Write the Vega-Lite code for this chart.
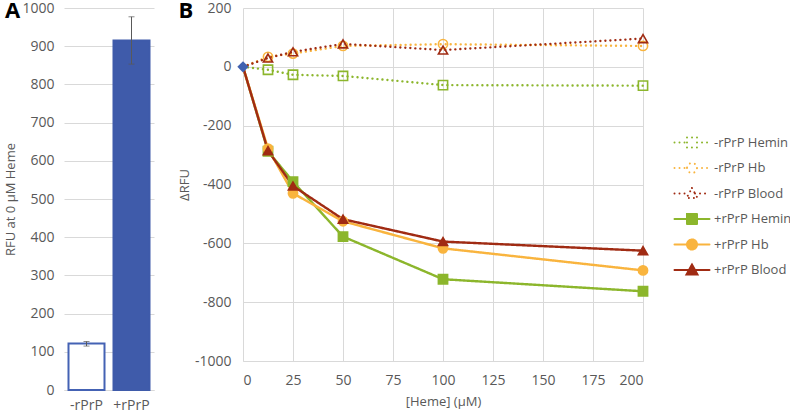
{
  "$schema": "https://vega.github.io/schema/vega-lite/v6.json",
  "padding": {"left": 4, "top": 0, "right": 0, "bottom": 0},
  "background": "white",
  "spacing": 24,
  "resolve": {"scale": {"x": "independent", "y": "independent", "fill": "independent", "stroke": "independent", "shape": "independent", "strokeDash": "independent"}, "legend": {"fill": "independent", "stroke": "independent", "shape": "independent", "strokeDash": "independent"}},
  "config": {
    "font": "Open Sans",
    "view": {"stroke": null},
    "axis": {"labelColor": "#595959", "titleColor": "#595959", "labelFontSize": 14, "titleFontSize": 13, "titleFontWeight": "normal", "gridColor": "#d9d9d9", "domainColor": "#d9d9d9", "ticks": false},
    "legend": {"title": null, "orient": "none", "legendX": 430, "legendY": 127, "padding": 0, "symbolSize": 100, "symbolStrokeWidth": 2, "labelOffset": 28, "labelFontSize": 13, "labelColor": "#595959", "rowPadding": 10.5, "clipHeight": 15, "labelLimit": 200},
    "title": {"fontSize": 22, "fontWeight": "bold", "color": "#000000", "anchor": "start", "frame": "bounds", "dy": 26}
  },
  "hconcat": [
    {
      "title": "A",
      "width": 90,
      "height": 382,
      "data": {"values": [
        {"g": "-rPrP", "v": 122, "lo": 115, "hi": 127},
        {"g": "+rPrP", "v": 915, "lo": 853, "hi": 977}
      ]},
      "layer": [
        {
          "mark": {"type": "bar", "strokeWidth": 2},
          "encoding": {
            "x": {"field": "g", "type": "nominal", "sort": ["-rPrP", "+rPrP"], "scale": {"paddingInner": 0.2, "paddingOuter": 0.1}, "axis": {"title": null, "labelAngle": 0, "labelPadding": 8, "domain": true, "grid": false}},
            "y": {"field": "v", "type": "quantitative", "scale": {"domain": [0, 1000], "nice": false}, "axis": {"title": "RFU at 0 μM Heme", "values": [0, 100, 200, 300, 400, 500, 600, 700, 800, 900, 1000], "labelExpr": "'' + datum.value", "domain": false, "labelPadding": 10, "titlePadding": 4}},
            "fill": {"field": "g", "type": "nominal", "scale": {"domain": ["-rPrP", "+rPrP"], "range": ["#ffffff", "#3F5BAA"]}, "legend": null},
            "stroke": {"field": "g", "type": "nominal", "scale": {"domain": ["-rPrP", "+rPrP"], "range": ["#4462B4", "#3F5BAA"]}, "legend": null}
          }
        },
        {
          "mark": {"type": "rule", "color": "#595959", "strokeWidth": 1},
          "encoding": {
            "x": {"field": "g", "type": "nominal", "sort": ["-rPrP", "+rPrP"]},
            "y": {"field": "lo", "type": "quantitative", "axis": {"title": "RFU at 0 μM Heme", "values": [0, 100, 200, 300, 400, 500, 600, 700, 800, 900, 1000], "labelExpr": "'' + datum.value", "domain": false, "labelPadding": 10, "titlePadding": 4}},
            "y2": {"field": "hi"}
          }
        },
        {
          "mark": {"type": "tick", "color": "#595959", "size": 6, "thickness": 1},
          "encoding": {
            "x": {"field": "g", "type": "nominal", "sort": ["-rPrP", "+rPrP"]},
            "y": {"field": "lo", "type": "quantitative", "axis": {"title": "RFU at 0 μM Heme", "values": [0, 100, 200, 300, 400, 500, 600, 700, 800, 900, 1000], "labelExpr": "'' + datum.value", "domain": false, "labelPadding": 10, "titlePadding": 4}}
          }
        },
        {
          "mark": {"type": "tick", "color": "#595959", "size": 6, "thickness": 1},
          "encoding": {
            "x": {"field": "g", "type": "nominal", "sort": ["-rPrP", "+rPrP"]},
            "y": {"field": "hi", "type": "quantitative", "axis": {"title": "RFU at 0 μM Heme", "values": [0, 100, 200, 300, 400, 500, 600, 700, 800, 900, 1000], "labelExpr": "'' + datum.value", "domain": false, "labelPadding": 10, "titlePadding": 4}}
          }
        }
      ]
    },
    {
      "title": "B",
      "width": 400,
      "height": 353,
      "data": {"values": [
        {"series": "-rPrP Hemin", "heme": "Hemin", "x": 0, "y": 0},
        {"series": "-rPrP Hemin", "heme": "Hemin", "x": 12.5, "y": -10},
        {"series": "-rPrP Hemin", "heme": "Hemin", "x": 25, "y": -27},
        {"series": "-rPrP Hemin", "heme": "Hemin", "x": 50, "y": -31},
        {"series": "-rPrP Hemin", "heme": "Hemin", "x": 100, "y": -62},
        {"series": "-rPrP Hemin", "heme": "Hemin", "x": 200, "y": -64},
        {"series": "-rPrP Hb", "heme": "Hb", "x": 0, "y": 0},
        {"series": "-rPrP Hb", "heme": "Hb", "x": 12.5, "y": 34},
        {"series": "-rPrP Hb", "heme": "Hb", "x": 25, "y": 45},
        {"series": "-rPrP Hb", "heme": "Hb", "x": 50, "y": 71},
        {"series": "-rPrP Hb", "heme": "Hb", "x": 100, "y": 77},
        {"series": "-rPrP Hb", "heme": "Hb", "x": 200, "y": 71},
        {"series": "-rPrP Blood", "heme": "Blood", "x": 0, "y": 0},
        {"series": "-rPrP Blood", "heme": "Blood", "x": 12.5, "y": 30},
        {"series": "-rPrP Blood", "heme": "Blood", "x": 25, "y": 51},
        {"series": "-rPrP Blood", "heme": "Blood", "x": 50, "y": 78},
        {"series": "-rPrP Blood", "heme": "Blood", "x": 100, "y": 57},
        {"series": "-rPrP Blood", "heme": "Blood", "x": 200, "y": 96},
        {"series": "+rPrP Hemin", "heme": "Hemin", "x": 0, "y": 0},
        {"series": "+rPrP Hemin", "heme": "Hemin", "x": 12.5, "y": -287},
        {"series": "+rPrP Hemin", "heme": "Hemin", "x": 25, "y": -390},
        {"series": "+rPrP Hemin", "heme": "Hemin", "x": 50, "y": -577},
        {"series": "+rPrP Hemin", "heme": "Hemin", "x": 100, "y": -722},
        {"series": "+rPrP Hemin", "heme": "Hemin", "x": 200, "y": -763},
        {"series": "+rPrP Hb", "heme": "Hb", "x": 0, "y": 0},
        {"series": "+rPrP Hb", "heme": "Hb", "x": 12.5, "y": -278},
        {"series": "+rPrP Hb", "heme": "Hb", "x": 25, "y": -430},
        {"series": "+rPrP Hb", "heme": "Hb", "x": 50, "y": -525},
        {"series": "+rPrP Hb", "heme": "Hb", "x": 100, "y": -617},
        {"series": "+rPrP Hb", "heme": "Hb", "x": 200, "y": -692},
        {"series": "+rPrP Blood", "heme": "Blood", "x": 0, "y": 0},
        {"series": "+rPrP Blood", "heme": "Blood", "x": 12.5, "y": -285},
        {"series": "+rPrP Blood", "heme": "Blood", "x": 25, "y": -405},
        {"series": "+rPrP Blood", "heme": "Blood", "x": 50, "y": -518},
        {"series": "+rPrP Blood", "heme": "Blood", "x": 100, "y": -594},
        {"series": "+rPrP Blood", "heme": "Blood", "x": 200, "y": -625}
      ]},
      "encoding": {
        "x": {"field": "x", "type": "quantitative", "scale": {"domain": [0, 200], "nice": false}, "axis": {"title": "[Heme] (μM)", "values": [0, 25, 50, 75, 100, 125, 150, 175, 200], "labelExpr": "'' + datum.value", "labelPadding": 12, "titlePadding": 8}},
        "y": {"field": "y", "type": "quantitative", "scale": {"domain": [-1000, 200], "nice": false}, "axis": {"title": "ΔRFU", "values": [-1000, -800, -600, -400, -200, 0, 200], "labelExpr": "'' + datum.value", "labelPadding": 12, "titlePadding": 3, "domain": false}}
      },
      "layer": [
        {
          "mark": {"type": "line", "strokeWidth": 2.4, "strokeCap": "round", "strokeJoin": "round"},
          "encoding": {
            "stroke": {"field": "series", "type": "nominal",
              "scale": {"domain": ["-rPrP Hemin", "-rPrP Hb", "-rPrP Blood", "+rPrP Hemin", "+rPrP Hb", "+rPrP Blood"], "range": ["#8CB62C", "#F9B43E", "#A02B13", "#8CB62C", "#F9B43E", "#A02B13"]},
              "legend": {"encoding": {"symbols": {
                  "shape": {"value": {"expr": "indexof(datum.value,'Hemin')>=0 ? 'M-1,0H1.5M3.5,0H6M1.5,-1H3.5V1H1.5Z' : indexof(datum.value,'Hb')>=0 ? 'M-1,0H1.5M3.5,0H6M1.5,0A1,1,0,1,0,3.5,0A1,1,0,1,0,1.5,0Z' : 'M-1,0H1.9M3.1,0H6M2.5,-1.1L3.6,0.9H1.4Z'"}},
                  "strokeCap": {"value": "round"},
                  "opacity": {"value": 1}
                }}}},
            "strokeDash": {"field": "series", "type": "nominal",
              "scale": {"domain": ["-rPrP Hemin", "-rPrP Hb", "-rPrP Blood", "+rPrP Hemin", "+rPrP Hb", "+rPrP Blood"], "range": [[0.01, 5], [0.01, 5], [0.01, 5], [1, 0], [1, 0], [1, 0]]},
              "legend": {"encoding": {"symbols": {
                  "shape": {"value": {"expr": "indexof(datum.value,'Hemin')>=0 ? 'M-1,0H1.5M3.5,0H6M1.5,-1H3.5V1H1.5Z' : indexof(datum.value,'Hb')>=0 ? 'M-1,0H1.5M3.5,0H6M1.5,0A1,1,0,1,0,3.5,0A1,1,0,1,0,1.5,0Z' : 'M-1,0H1.9M3.1,0H6M2.5,-1.1L3.6,0.9H1.4Z'"}},
                  "strokeCap": {"value": "round"},
                  "opacity": {"value": 1}
                }}}}
          }
        },
        {
          "transform": [{"filter": "datum.x > 0"}],
          "mark": {"type": "point", "opacity": 1, "strokeWidth": 1.6, "size": 85},
          "encoding": {
            "stroke": {"field": "series", "type": "nominal",
              "legend": {"encoding": {"symbols": {
                  "shape": {"value": {"expr": "indexof(datum.value,'Hemin')>=0 ? 'M-1,0H1.5M3.5,0H6M1.5,-1H3.5V1H1.5Z' : indexof(datum.value,'Hb')>=0 ? 'M-1,0H1.5M3.5,0H6M1.5,0A1,1,0,1,0,3.5,0A1,1,0,1,0,1.5,0Z' : 'M-1,0H1.9M3.1,0H6M2.5,-1.1L3.6,0.9H1.4Z'"}},
                  "strokeCap": {"value": "round"},
                  "opacity": {"value": 1}
                }}}},
            "fill": {"field": "series", "type": "nominal",
              "scale": {"domain": ["-rPrP Hemin", "-rPrP Hb", "-rPrP Blood", "+rPrP Hemin", "+rPrP Hb", "+rPrP Blood"], "range": ["transparent", "transparent", "transparent", "#8CB62C", "#F9B43E", "#A02B13"]},
              "legend": {"encoding": {"symbols": {
                  "shape": {"value": {"expr": "indexof(datum.value,'Hemin')>=0 ? 'M-1,0H1.5M3.5,0H6M1.5,-1H3.5V1H1.5Z' : indexof(datum.value,'Hb')>=0 ? 'M-1,0H1.5M3.5,0H6M1.5,0A1,1,0,1,0,3.5,0A1,1,0,1,0,1.5,0Z' : 'M-1,0H1.9M3.1,0H6M2.5,-1.1L3.6,0.9H1.4Z'"}},
                  "strokeCap": {"value": "round"},
                  "opacity": {"value": 1}
                }}}},
            "shape": {"field": "heme", "type": "nominal",
              "scale": {"domain": ["Hemin", "Hb", "Blood"], "range": ["square", "circle", "triangle-up"]},
              "legend": null}
          }
        },
        {
          "transform": [{"filter": "datum.x == 0 && datum.series == '+rPrP Hemin'"}],
          "mark": {"type": "point", "shape": "diamond", "filled": true, "color": "#4062B0", "opacity": 1, "size": 130}
        }
      ]
    }
  ]
}
